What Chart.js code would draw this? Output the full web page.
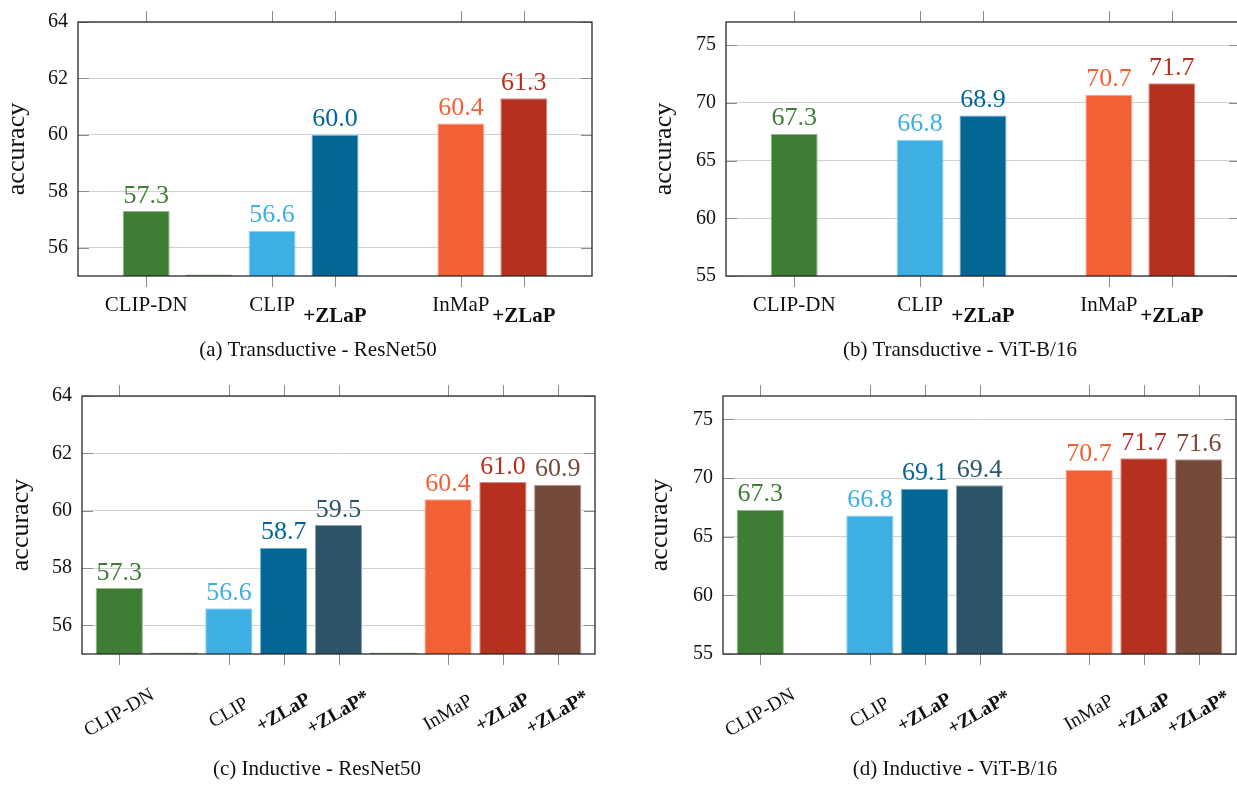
<!DOCTYPE html>
<html>
<head>
<meta charset="utf-8">
<script src="https://cdn.jsdelivr.net/npm/chart.js@4.4.1/dist/chart.umd.min.js"></script>
<style>
  html, body { margin: 0; padding: 0; background: #fff; }
  #page { position: relative; width: 1237px; height: 785px; overflow: hidden; }
  .panel { position: absolute; }
  .caption {
    position: absolute; width: 400px; text-align: center; white-space: nowrap;
    font-family: 'Liberation Serif', 'Times New Roman', serif; font-size: 21px; line-height: 21px; color: #111;
  }
</style>
</head>
<body>
<div id="page">
  <div class="panel" style="left:0;top:0;width:620px;height:370px"><canvas id="chartA"></canvas></div>
  <div class="panel" style="left:620px;top:0;width:640px;height:370px"><canvas id="chartB"></canvas></div>
  <div class="panel" style="left:0;top:370px;width:620px;height:415px"><canvas id="chartC"></canvas></div>
  <div class="panel" style="left:620px;top:370px;width:640px;height:415px"><canvas id="chartD"></canvas></div>
  <div class="caption" style="left:118px;top:339px">(a) Transductive - ResNet50</div>
  <div class="caption" style="left:760px;top:339px">(b) Transductive - ViT-B/16</div>
  <div class="caption" style="left:117px;top:758px">(c) Inductive - ResNet50</div>
  <div class="caption" style="left:755px;top:758px">(d) Inductive - ViT-B/16</div>
</div>
<script>
// categories (empty string = gap slot)
var catTrans = ['CLIP-DN', '', 'CLIP', '+ZLaP', '', 'InMaP', '+ZLaP'];
var catInd = ['CLIP-DN', '', 'CLIP', '+ZLaP', '+ZLaP*', '', 'InMaP', '+ZLaP', '+ZLaP*'];

// accuracy values
var accTransRN50 = [57.3, 55.05, 56.6, 60.0, null, 60.4, 61.3];
var accTransViT = [67.3, null, 66.8, 68.9, null, 70.7, 71.7];
var accIndRN50 = [57.3, 55.05, 56.6, 58.7, 59.5, 55.05, 60.4, 61.0, 60.9];
var accIndViT = [67.3, null, 66.8, 69.1, 69.4, null, 70.7, 71.7, 71.6];

// y tick labels
var yTicksRN50 = [56, 58, 60, 62, 64];
var yTicksViT = [55, 60, 65, 70, 75];

var GREEN = '#3e7d34', LBLUE = '#3eafe3', BLUE = '#026795', SLATE = '#2c5468',
    ORANGE = '#f26135', RED = '#b5301f', BROWN = '#754a3a';
var colTrans = [GREEN, GREEN, LBLUE, BLUE, null, ORANGE, RED];
var colInd = [GREEN, GREEN, LBLUE, BLUE, SLATE, GREEN, ORANGE, RED, BROWN];

var FONT = "'Liberation Serif', 'Times New Roman', serif";

var lighten = function (hex) {
    var n = parseInt(hex.slice(1), 16);
    var r = n >> 16, g = (n >> 8) & 255, b = n & 255;
    var m = function (c) { return Math.round(c + (255 - c) * 0.45); };
    return 'rgb(' + m(r) + ',' + m(g) + ',' + m(b) + ')';
};

var framePlugin = function (cfg) {
    return {
        id: 'frame',
        afterDatasetsDraw: function (chart) {
            var ctx = chart.ctx, a = chart.chartArea;
            var x = chart.scales.x, y = chart.scales.y;
            ctx.save();

            // tick marks (inner on y, outer on x, both sides)
            ctx.lineWidth = 1;
            ctx.strokeStyle = '#8c8c8c';
            ctx.beginPath();
            cfg.yTicks.forEach(function (v) {
                var py = Math.round(y.getPixelForValue(v)) + 0.5;
                ctx.moveTo(a.left, py); ctx.lineTo(a.left + 11, py);
                ctx.moveTo(a.right - 11, py); ctx.lineTo(a.right, py);
            });
            cfg.labels.forEach(function (l, i) {
                if (!l) return;
                var px = Math.round(x.getPixelForValue(i)) + 0.5;
                ctx.moveTo(px, a.top - 11); ctx.lineTo(px, a.top);
                ctx.moveTo(px, a.bottom); ctx.lineTo(px, a.bottom + 11);
            });
            ctx.stroke();

            // box
            ctx.strokeStyle = '#2a2a2a';
            ctx.lineWidth = 1.3;
            ctx.strokeRect(a.left, a.top, a.right - a.left, a.bottom - a.top);

            // value labels
            ctx.font = '26px ' + FONT;
            ctx.textAlign = 'center';
            ctx.textBaseline = 'alphabetic';
            cfg.labels.forEach(function (l, i) {
                var v = cfg.values[i];
                if (!l || v == null) return;
                ctx.fillStyle = cfg.colors[i];
                ctx.fillText(v.toFixed(1), x.getPixelForValue(i), y.getPixelForValue(v) - 8.5);
            });

            // category labels
            ctx.fillStyle = '#111';
            cfg.labels.forEach(function (l, i) {
                if (!l) return;
                var bold = l.charAt(0) === '+';
                var px = x.getPixelForValue(i);
                if (cfg.rotate) {
                    ctx.save();
                    ctx.translate(px, a.bottom + 59);
                    ctx.rotate(-Math.PI / 6);
                    ctx.font = (bold ? 'bold ' : '') + '19.5px ' + FONT;
                    ctx.textAlign = 'center';
                    ctx.textBaseline = 'middle';
                    ctx.fillText(l, 0, 0);
                    ctx.restore();
                } else {
                    ctx.font = (bold ? 'bold ' : '') + '21px ' + FONT;
                    ctx.textAlign = 'center';
                    ctx.textBaseline = 'alphabetic';
                    ctx.fillText(l, px, a.bottom + (bold ? 45.5 : 34.5));
                }
            });
            ctx.restore();
        }
    };
};

var makePanel = function (id, cfg) {
    var pts = [], bg = [], bd = [];
    cfg.values.forEach(function (v, i) {
        if (v == null) return;
        pts.push({ x: i, y: v });
        bg.push(cfg.colors[i]);
        bd.push(lighten(cfg.colors[i]));
    });
    var n = cfg.labels.length;

    new Chart(document.getElementById(id), {
        type: 'bar',
        data: {
            datasets: [{
                data: pts,
                backgroundColor: bg,
                borderColor: bd,
                borderWidth: 1,
                barPercentage: cfg.barPct,
                categoryPercentage: 1
            }]
        },
        options: {
            responsive: true,
            maintainAspectRatio: false,
            animation: false,
            layout: { padding: { top: cfg.top, right: cfg.right, left: 0, bottom: 0 } },
            plugins: { legend: { display: false }, tooltip: { enabled: false } },
            scales: {
                x: {
                    type: 'linear',
                    offset: false,
                    min: -cfg.pad,
                    max: n - 1 + cfg.pad,
                    afterBuildTicks: function (s) {
                        s.ticks = cfg.labels.map(function (l, i) { return l ? { value: i } : null; })
                            .filter(Boolean);
                    },
                    ticks: { display: false },
                    grid: { display: false },
                    border: { display: false },
                    afterFit: function (s) { s.height = cfg.bottomSpace; }
                },
                y: {
                    min: cfg.yMin,
                    max: cfg.yMax,
                    afterBuildTicks: function (s) {
                        s.ticks = cfg.yTicks.map(function (v) { return { value: v }; });
                    },
                    ticks: { font: { family: FONT, size: 20 }, color: '#111', padding: 10 },
                    grid: { color: '#d0d0d0', drawTicks: false },
                    border: { display: false },
                    title: {
                        display: true,
                        text: 'accuracy',
                        color: '#111',
                        font: { family: FONT, size: 26, lineHeight: '22px' },
                        padding: { top: cfg.titlePad, bottom: 0 }
                    },
                    afterFit: function (s) { s.width = cfg.left; }
                }
            }
        },
        plugins: [framePlugin(cfg)]
    });
};

makePanel('chartA', {
    labels: catTrans, values: accTransRN50, colors: colTrans, yTicks: yTicksRN50,
    yMin: 55, yMax: 64, pad: 1.083, barPct: 0.747, rotate: false,
    left: 78, top: 18, right: 28, bottomSpace: 94, titlePad: 6
});
makePanel('chartB', {
    labels: catTrans, values: accTransViT, colors: colTrans, yTicks: yTicksViT,
    yMin: 55, yMax: 77, pad: 1.083, barPct: 0.747, rotate: false,
    left: 106, top: 18, right: 20, bottomSpace: 94, titlePad: 33
});
makePanel('chartC', {
    labels: catInd, values: accIndRN50, colors: colInd, yTicks: yTicksRN50,
    yMin: 55, yMax: 64, pad: 0.68, barPct: 0.863, rotate: true,
    left: 82, top: 26, right: 25, bottomSpace: 131, titlePad: 10
});
makePanel('chartD', {
    labels: catInd, values: accIndViT, colors: colInd, yTicks: yTicksViT,
    yMin: 55, yMax: 77, pad: 0.68, barPct: 0.863, rotate: true,
    left: 103, top: 26, right: 24, bottomSpace: 131, titlePad: 29
});
</script>
</body>
</html>
